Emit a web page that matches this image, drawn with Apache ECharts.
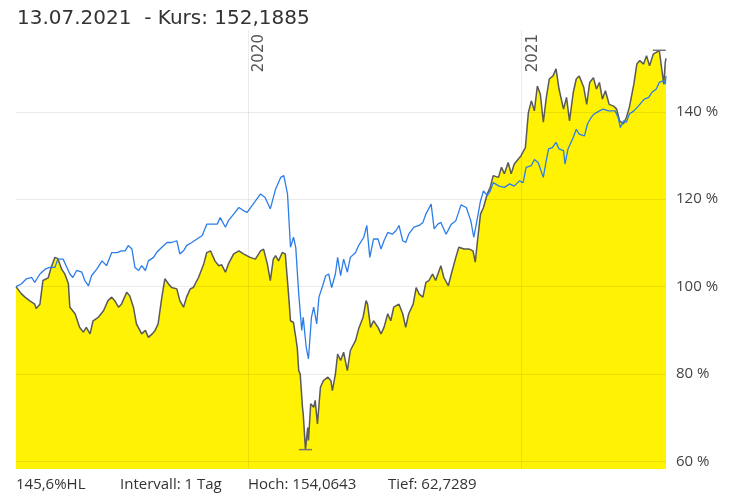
<!DOCTYPE html>
<html><head><meta charset="utf-8">
<script src="https://cdn.jsdelivr.net/npm/echarts@6/dist/echarts.min.js"></script>
<style>html,body{margin:0;padding:0;background:#fff}#c{width:751px;height:497px}</style>
</head><body><div id="c"></div>
<script>
const titleText = '13.07.2021  - Kurs: 152,1885';
const footerTexts = ['145,6%HL', 'Intervall: 1 Tag', 'Hoch: 154,0643', 'Tief: 62,7289'];
const yTicks = [60, 80, 100, 120, 140];
const yearLines = [['2020-01-01', '2020'], ['2021-01-01', '2021']];
const xRange = ['2019-02-25', '2021-07-13'];

const stockSeries = [
['2019-02-25',100.0],['2019-03-04',98.4],['2019-03-09',97.6],['2019-03-15',96.8],['2019-03-22',96.0],['2019-03-24',95.0],['2019-03-29',96.0],['2019-04-02',101.4],['2019-04-09',102.0],['2019-04-13',104.4],['2019-04-18',106.7],['2019-04-22',106.4],['2019-04-27',104.0],['2019-05-01',103.0],['2019-05-06',100.7],['2019-05-08',95.3],['2019-05-15',93.8],['2019-05-21',90.7],['2019-05-26',89.6],['2019-05-30',90.7],['2019-06-04',89.2],['2019-06-08',92.2],['2019-06-15',93.0],['2019-06-22',94.5],['2019-06-28',96.8],['2019-07-03',97.6],['2019-07-07',96.8],['2019-07-12',95.3],['2019-07-16',96.0],['2019-07-23',98.7],['2019-07-27',97.9],['2019-08-01',95.3],['2019-08-05',91.5],['2019-08-12',89.2],['2019-08-17',90.0],['2019-08-21',88.4],['2019-08-26',89.2],['2019-08-30',90.0],['2019-09-03',91.5],['2019-09-08',97.6],['2019-09-12',101.8],['2019-09-17',100.6],['2019-09-21',99.8],['2019-09-28',99.5],['2019-10-02',96.8],['2019-10-07',95.3],['2019-10-11',97.6],['2019-10-16',99.5],['2019-10-20',99.8],['2019-10-27',102.1],['2019-11-03',105.2],['2019-11-07',107.8],['2019-11-12',108.2],['2019-11-18',105.9],['2019-11-23',104.8],['2019-11-27',105.0],['2019-12-02',103.3],['2019-12-06',105.2],['2019-12-13',107.5],['2019-12-20',108.2],['2019-12-26',107.5],
['2020-01-04',106.7],['2020-01-11',106.3],['2020-01-18',108.2],['2020-01-22',108.6],['2020-01-27',105.2],['2020-01-31',101.4],['2020-02-04',106.3],['2020-02-07',107.1],['2020-02-11',105.9],['2020-02-16',107.8],['2020-02-20',107.5],['2020-02-24',99.1],['2020-02-27',92.2],['2020-03-02',91.8],['2020-03-07',86.1],['2020-03-09',80.8],['2020-03-11',80.0],['2020-03-14',72.4],['2020-03-15',70.9],['2020-03-18',62.73],['2020-03-21',67.8],['2020-03-22',64.8],['2020-03-25',73.2],['2020-03-29',72.4],['2020-03-31',74.0],['2020-04-03',68.6],['2020-04-07',77.0],['2020-04-11',78.5],['2020-04-17',79.3],['2020-04-21',78.5],['2020-04-23',76.2],['2020-04-27',80.0],['2020-04-30',84.6],['2020-05-04',83.1],['2020-05-08',85.0],['2020-05-13',80.8],['2020-05-17',85.4],['2020-05-24',87.7],['2020-05-28',90.3],['2020-06-03',93.0],['2020-06-07',96.8],['2020-06-09',96.0],['2020-06-13',90.7],['2020-06-17',92.2],['2020-06-23',90.7],['2020-06-27',89.2],['2020-07-01',90.7],['2020-07-06',93.8],['2020-07-10',92.2],['2020-07-14',95.3],['2020-07-21',96.0],['2020-07-26',93.8],['2020-07-30',90.7],['2020-08-03',93.8],['2020-08-09',96.0],['2020-08-13',99.8],['2020-08-17',98.3],['2020-08-22',97.6],['2020-08-26',101.0],['2020-08-30',101.4],['2020-09-04',102.9],['2020-09-08',101.4],['2020-09-15',104.8],['2020-09-19',102.1],['2020-09-25',100.2],['2020-09-29',102.9],['2020-10-05',106.7],['2020-10-09',109.0],['2020-10-16',108.6],['2020-10-23',108.6],['2020-10-28',108.2],['2020-10-31',105.6],['2020-11-03',110.5],['2020-11-07',116.6],['2020-11-11',118.1],['2020-11-16',121.2],['2020-11-20',122.7],['2020-11-24',125.4],['2020-12-01',125.0],['2020-12-05',127.3],['2020-12-09',125.8],['2020-12-14',128.4],['2020-12-18',125.8],['2020-12-22',128.0],['2020-12-27',129.1],['2020-12-31',129.9],
['2021-01-06',131.8],['2021-01-10',139.8],['2021-01-14',142.5],['2021-01-18',140.2],['2021-01-22',145.9],['2021-01-26',144.0],['2021-01-30',137.6],['2021-02-03',143.3],['2021-02-07',147.5],['2021-02-12',148.2],['2021-02-16',149.8],['2021-02-20',145.2],['2021-02-26',140.6],['2021-03-02',143.3],['2021-03-06',137.9],['2021-03-11',144.4],['2021-03-15',147.5],['2021-03-19',148.2],['2021-03-25',145.6],['2021-03-29',141.7],['2021-04-02',146.7],['2021-04-07',147.8],['2021-04-11',145.2],['2021-04-15',146.7],['2021-04-19',142.9],['2021-04-23',144.8],['2021-04-28',141.7],['2021-05-04',141.3],['2021-05-08',140.6],['2021-05-12',137.9],['2021-05-17',137.2],['2021-05-21',138.7],['2021-05-25',141.0],['2021-05-31',146.3],['2021-06-04',150.9],['2021-06-08',151.7],['2021-06-13',150.9],['2021-06-17',152.8],['2021-06-21',150.5],['2021-06-26',153.2],['2021-06-30',153.6],['2021-07-04',154.06],['2021-07-10',146.3],['2021-07-12',151.3],['2021-07-13',152.19]
];

const benchSeries = [
['2019-02-25',100.0],['2019-03-04',100.6],['2019-03-11',101.8],['2019-03-18',102.1],['2019-03-22',101.0],['2019-03-29',102.9],['2019-04-05',104.0],['2019-04-11',104.4],['2019-04-18',104.4],['2019-04-22',106.3],['2019-04-29',106.3],['2019-05-04',104.4],['2019-05-08',102.9],['2019-05-12',102.1],['2019-05-17',103.7],['2019-05-24',103.3],['2019-05-28',101.4],['2019-06-02',100.2],['2019-06-06',102.5],['2019-06-13',104.0],['2019-06-20',105.9],['2019-06-26',104.8],['2019-07-03',107.8],['2019-07-10',107.8],['2019-07-16',108.2],['2019-07-21',108.2],['2019-07-25',109.4],['2019-07-30',108.6],['2019-08-03',104.4],['2019-08-08',103.7],['2019-08-12',104.8],['2019-08-17',103.7],['2019-08-21',105.9],['2019-08-28',106.7],['2019-09-01',107.8],['2019-09-08',109.0],['2019-09-15',110.1],['2019-09-21',110.1],['2019-09-28',110.5],['2019-10-02',107.5],['2019-10-07',108.2],['2019-10-11',109.4],['2019-10-18',110.1],['2019-10-25',110.9],['2019-11-01',111.7],['2019-11-07',114.3],['2019-11-14',114.3],['2019-11-21',114.3],['2019-11-25',115.8],['2019-12-02',113.6],['2019-12-06',115.1],['2019-12-13',116.6],['2019-12-20',118.1],['2019-12-26',117.4],['2019-12-31',117.0],
['2020-01-08',118.9],['2020-01-18',121.2],['2020-01-24',120.4],['2020-01-31',117.8],['2020-02-07',122.3],['2020-02-14',125.0],['2020-02-18',125.4],['2020-02-23',121.2],['2020-02-27',109.0],['2020-03-02',111.3],['2020-03-05',109.0],['2020-03-09',98.3],['2020-03-13',90.0],['2020-03-15',93.0],['2020-03-19',86.1],['2020-03-22',83.5],['2020-03-26',93.0],['2020-03-29',95.3],['2020-04-02',91.5],['2020-04-05',97.6],['2020-04-10',100.2],['2020-04-14',102.5],['2020-04-18',102.9],['2020-04-22',99.8],['2020-04-27',102.9],['2020-04-30',106.7],['2020-05-04',102.5],['2020-05-08',106.3],['2020-05-13',103.3],['2020-05-17',106.7],['2020-05-24',107.8],['2020-05-28',109.4],['2020-06-04',111.3],['2020-06-08',114.0],['2020-06-12',106.7],['2020-06-17',110.9],['2020-06-23',110.9],['2020-06-27',108.6],['2020-07-01',110.5],['2020-07-06',112.4],['2020-07-12',112.0],['2020-07-17',112.8],['2020-07-21',114.0],['2020-07-26',110.5],['2020-07-30',110.1],['2020-08-03',112.0],['2020-08-10',113.6],['2020-08-17',114.0],['2020-08-22',114.7],['2020-08-26',116.6],['2020-09-02',118.9],['2020-09-06',113.2],['2020-09-11',114.3],['2020-09-15',114.7],['2020-09-22',112.0],['2020-09-29',114.3],['2020-10-05',115.1],['2020-10-12',118.7],['2020-10-19',118.1],['2020-10-25',115.1],['2020-10-29',111.3],['2020-11-03',115.8],['2020-11-07',119.6],['2020-11-11',121.9],['2020-11-16',120.8],['2020-11-20',121.9],['2020-11-24',123.8],['2020-12-02',123.0],['2020-12-09',122.7],['2020-12-16',123.5],['2020-12-22',123.0],['2020-12-29',124.2],
['2021-01-03',123.8],['2021-01-07',127.3],['2021-01-14',127.7],['2021-01-18',129.1],['2021-01-23',128.4],['2021-01-30',125.0],['2021-02-02',128.0],['2021-02-06',131.5],['2021-02-11',131.8],['2021-02-16',133.0],['2021-02-20',131.5],['2021-02-26',131.1],['2021-02-28',128.0],['2021-03-04',131.5],['2021-03-11',134.1],['2021-03-15',136.0],['2021-03-19',134.9],['2021-03-26',134.5],['2021-03-30',137.2],['2021-04-04',138.7],['2021-04-08',139.5],['2021-04-15',140.2],['2021-04-20',140.6],['2021-04-27',140.2],['2021-05-02',140.2],['2021-05-06',140.2],['2021-05-10',138.7],['2021-05-13',136.4],['2021-05-17',137.9],['2021-05-21',137.6],['2021-05-25',139.5],['2021-05-31',140.2],['2021-06-06',141.3],['2021-06-10',142.1],['2021-06-14',142.9],['2021-06-20',143.3],['2021-06-24',144.4],['2021-06-30',145.2],['2021-07-04',146.7],['2021-07-10',147.1],['2021-07-12',146.3],['2021-07-13',148.2]
];

const pd = s => echarts.number.parseDate(s).getTime();
const chart = echarts.init(document.getElementById('c'));
const gridColor = 'rgba(0,0,0,0.08)';

const markData = yTicks.map(v => ({
  yAxis: v,
  label: { show: true, position: 'end', formatter: v + ' %', distance: 10, color: '#444', fontSize: 15, fontFamily: 'Open Sans' }
})).concat(yearLines.map(([d, l]) => ({
  xAxis: pd(d),
  label: { show: true, position: 'insideEndBottom', formatter: l, distance: 4, color: '#555', fontSize: 15, fontFamily: 'DejaVu Sans' }
})));

const footerX = [16, 120, 248, 388];

chart.setOption({
  animation: false,
  grid: { left: 16, right: 85, top: 30, bottom: 28 },
  xAxis: { type: 'time', min: pd(xRange[0]), max: pd(xRange[1]), show: false },
  yAxis: { type: 'value', min: 58.3, max: 158.7, show: false },
  series: [
    {
      type: 'line', data: stockSeries.map(p => [pd(p[0]), p[1]]), showSymbol: false, z: 2,
      lineStyle: { color: '#5a5a5a', width: 1.5 },
      itemStyle: { color: '#5a5a5a' },
      areaStyle: { color: '#fff203', opacity: 1, origin: 'start' },
      markLine: { silent: true, symbol: 'none', animation: false, lineStyle: { color: gridColor, width: 1, type: 'solid' }, data: markData },
      markPoint: { silent: true, symbol: 'rect', symbolSize: [13, 1.5], itemStyle: { color: '#777' }, label: { show: false }, data: [{ type: 'max' }, { type: 'min' }] }
    },
    {
      type: 'line', data: benchSeries.map(p => [pd(p[0]), p[1]]), showSymbol: false, z: 3,
      lineStyle: { color: '#2b7de9', width: 1.3 },
      itemStyle: { color: '#2b7de9' }
    }
  ],
  graphic: [
    { type: 'text', x: 17, y: 19, style: { text: titleText, fill: '#333', font: '20px "DejaVu Sans"', verticalAlign: 'middle', textVerticalAlign: 'middle' } }
  ].concat(footerTexts.map((t, i) => ({
    type: 'text', x: footerX[i], y: 485, style: { text: t, fill: '#333', font: '15px "Open Sans"', verticalAlign: 'middle', textVerticalAlign: 'middle' }
  })))
});
</script>
</body></html>
